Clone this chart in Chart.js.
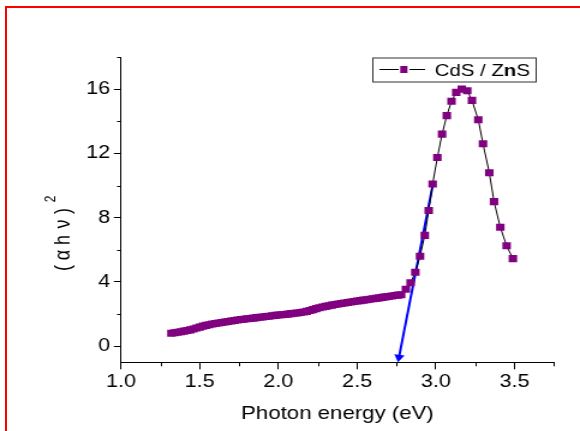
<!DOCTYPE html>
<html>
<head>
<meta charset="utf-8">
<script src="https://cdn.jsdelivr.net/npm/chart.js@4.4.1/dist/chart.umd.min.js"></script>
<style>
  html, body { margin: 0; padding: 0; background: #fff; overflow: hidden; width: 580px; height: 431px; }
  #frame { position: absolute; left: 5px; top: 6px; width: 800px; height: 800px; border-left: 2px solid #ff0000; border-top: 2px solid #ff0000; }
  #wrap { position: absolute; left: 0; top: 0; width: 483px; height: 431px; transform: scaleX(1.2008); transform-origin: 0 0; }
</style>
</head>
<body>
<div id="frame"></div>
<div id="wrap"><canvas id="tauc" width="483" height="431"></canvas></div>
<script>
// photon energy (eV) and (alpha h nu)^2
const energy = [
  1.32, 1.34, 1.36, 1.38, 1.40, 1.42, 1.44, 1.46, 1.48, 1.50,
  1.52, 1.54, 1.56, 1.58, 1.60, 1.62, 1.64, 1.66, 1.68, 1.70,
  1.72, 1.74, 1.76, 1.78, 1.80, 1.82, 1.84, 1.86, 1.88, 1.90,
  1.92, 1.94, 1.96, 1.98, 2.00, 2.02, 2.04, 2.06, 2.08, 2.10,
  2.12, 2.14, 2.16, 2.18, 2.20, 2.22, 2.24, 2.26, 2.28, 2.30,
  2.32, 2.34, 2.36, 2.38, 2.40, 2.42, 2.44, 2.46, 2.48, 2.50,
  2.52, 2.54, 2.56, 2.58, 2.60, 2.62, 2.64, 2.66, 2.68, 2.70,
  2.72, 2.74, 2.76, 2.78,
  2.81, 2.84, 2.87, 2.90, 2.93, 2.955, 2.98, 3.01, 3.04, 3.07,
  3.10, 3.13, 3.165, 3.20, 3.23, 3.27, 3.30, 3.34, 3.37, 3.41,
  3.45, 3.49
];
const absorb = [
  0.81, 0.84, 0.87, 0.90, 0.94, 0.98, 1.02, 1.07, 1.13, 1.19,
  1.25, 1.30, 1.34, 1.38, 1.41, 1.45, 1.48, 1.51, 1.54, 1.57,
  1.60, 1.63, 1.66, 1.68, 1.71, 1.73, 1.75, 1.78, 1.80, 1.82,
  1.85, 1.87, 1.90, 1.92, 1.94, 1.96, 1.98, 2.00, 2.03, 2.05,
  2.07, 2.10, 2.13, 2.17, 2.22, 2.28, 2.34, 2.39, 2.44, 2.48,
  2.52, 2.56, 2.60, 2.63, 2.66, 2.69, 2.72, 2.75, 2.78, 2.81,
  2.84, 2.87, 2.89, 2.92, 2.95, 2.98, 3.01, 3.04, 3.07, 3.10,
  3.13, 3.16, 3.18, 3.20,
  3.55, 3.95, 4.60, 5.60, 6.90, 8.45, 10.1, 11.75, 13.2, 14.35,
  15.25, 15.8, 16.0, 15.9, 15.3, 14.1, 12.6, 10.8, 9.0, 7.4,
  6.25, 5.45
];
// band gap extrapolation arrow
const arrowE = [2.98, 2.766];
const arrowY = [10.0, -0.69];

const xTicks = [1.0, 1.5, 2.0, 2.5, 3.0, 3.5];
const xMinor = [1.25, 1.75, 2.25, 2.75, 3.25, 3.75];
const yTicks = [0, 4, 8, 12, 16];
const yMinor = [2, 6, 10, 14, 18];

const FONT = 'Liberation Sans, Arial, sans-serif';

const extras = {
  id: 'extras',
  afterDraw(chart) {
    const ctx = chart.ctx;
    const x = chart.scales.x, y = chart.scales.y;
    ctx.save();
    ctx.strokeStyle = '#000';
    ctx.lineWidth = 1;
    ctx.beginPath();
    xMinor.forEach(v => {
      const px = Math.round(x.getPixelForValue(v)) + 0.5;
      ctx.moveTo(px, y.bottom);
      ctx.lineTo(px, y.bottom + 4);
    });
    yMinor.forEach(v => {
      const py = Math.round(y.getPixelForValue(v)) + 0.5;
      ctx.moveTo(x.left, py);
      ctx.lineTo(x.left - 3.3, py);
    });
    ctx.stroke();

    // axis titles
    ctx.fillStyle = '#000';
    ctx.font = '18.5px ' + FONT;
    ctx.textAlign = 'center';
    ctx.textBaseline = 'alphabetic';
    ctx.fillText('Photon energy (eV)', (x.left + x.right) / 2, 419);

    ctx.font = '18px ' + FONT;
    [['(', 268], ['\u03b1', 255], ['h', 240], ['\u03bd', 224], [')', 211]].forEach(([ch, cy]) => {
      ctx.save();
      ctx.translate(58, cy);
      ctx.rotate(-Math.PI / 2);
      ctx.fillText(ch, 0, 0);
      ctx.restore();
    });
    ctx.save();
    ctx.translate(46, 199);
    ctx.rotate(-Math.PI / 2);
    ctx.font = '12px ' + FONT;
    ctx.fillText('2', 0, 0);
    ctx.restore();

    // legend
    ctx.lineWidth = 1;
    ctx.strokeStyle = '#333';
    ctx.strokeRect(310.5, 58, 136, 24);
    ctx.strokeStyle = '#000';
    ctx.beginPath();
    ctx.moveTo(316, 69.5); ctx.lineTo(332, 69.5);
    ctx.moveTo(341, 69.5); ctx.lineTo(354, 69.5);
    ctx.stroke();
    ctx.fillStyle = '#800080';
    ctx.fillRect(333.3, 66, 6, 7);
    ctx.fillStyle = '#000';
    ctx.textAlign = 'left';
    ctx.font = '17px ' + FONT;
    let tx = 362;
    ctx.fillText('CdS / Z', tx, 75.7);
    tx += ctx.measureText('CdS / Z').width;
    ctx.font = 'bold 17px ' + FONT;
    ctx.fillText('n', tx, 75.7);
    tx += ctx.measureText('n').width;
    ctx.font = '17px ' + FONT;
    ctx.fillText('S', tx, 75.7);
    ctx.restore();
  }
};

new Chart(document.getElementById('tauc'), {
  type: 'line',
  data: {
    datasets: [
      {
        label: 'CdS / ZnS',
        data: energy.map((e, i) => ({ x: e, y: absorb[i] })),
        borderColor: '#000',
        borderWidth: 1,
        pointStyle: 'rect',
        pointRadius: 5,
        pointBorderWidth: 0,
        pointBackgroundColor: '#800080',
        pointBorderColor: '#800080',
        tension: 0
      },
      {
        label: 'fit',
        data: arrowE.map((e, i) => ({ x: e, y: arrowY[i] })),
        borderColor: '#0000ff',
        borderWidth: 2,
        pointStyle: 'triangle',
        pointRadius: [0, 5],
        pointRotation: 189,
        pointBackgroundColor: '#0000ff',
        pointBorderColor: '#0000ff',
        pointBorderWidth: 0,
        clip: false
      }
    ]
  },
  options: {
    responsive: false,
    animation: false,
    devicePixelRatio: 1,
    layout: { padding: { left: 0, top: 57, right: 21.8, bottom: 0 } },
    plugins: { legend: { display: false }, tooltip: { enabled: false } },
    scales: {
      x: {
        type: 'linear',
        min: 1.0,
        max: 3.75,
        afterBuildTicks: s => { s.ticks = xTicks.map(v => ({ value: v })); },
        afterFit: s => { s.height = 68.7; },
        grid: { drawOnChartArea: false, tickLength: 7, tickColor: '#000' },
        border: { color: '#000', width: 1 },
        ticks: {
          color: '#000',
          font: { family: FONT, size: 18 },
          padding: 2,
          maxRotation: 0,
          callback: v => v.toFixed(1)
        }
      },
      y: {
        type: 'linear',
        min: -1,
        max: 18,
        afterBuildTicks: s => { s.ticks = yTicks.map(v => ({ value: v })); },
        afterFit: s => { s.width = 100.8; },
        grid: { drawOnChartArea: false, tickLength: 6, tickColor: '#000' },
        border: { color: '#000', width: 1 },
        ticks: {
          color: '#000',
          font: { family: FONT, size: 18 },
          padding: 3,
          callback: v => String(v)
        }
      }
    }
  },
  plugins: [extras]
});
</script>
</body>
</html>
